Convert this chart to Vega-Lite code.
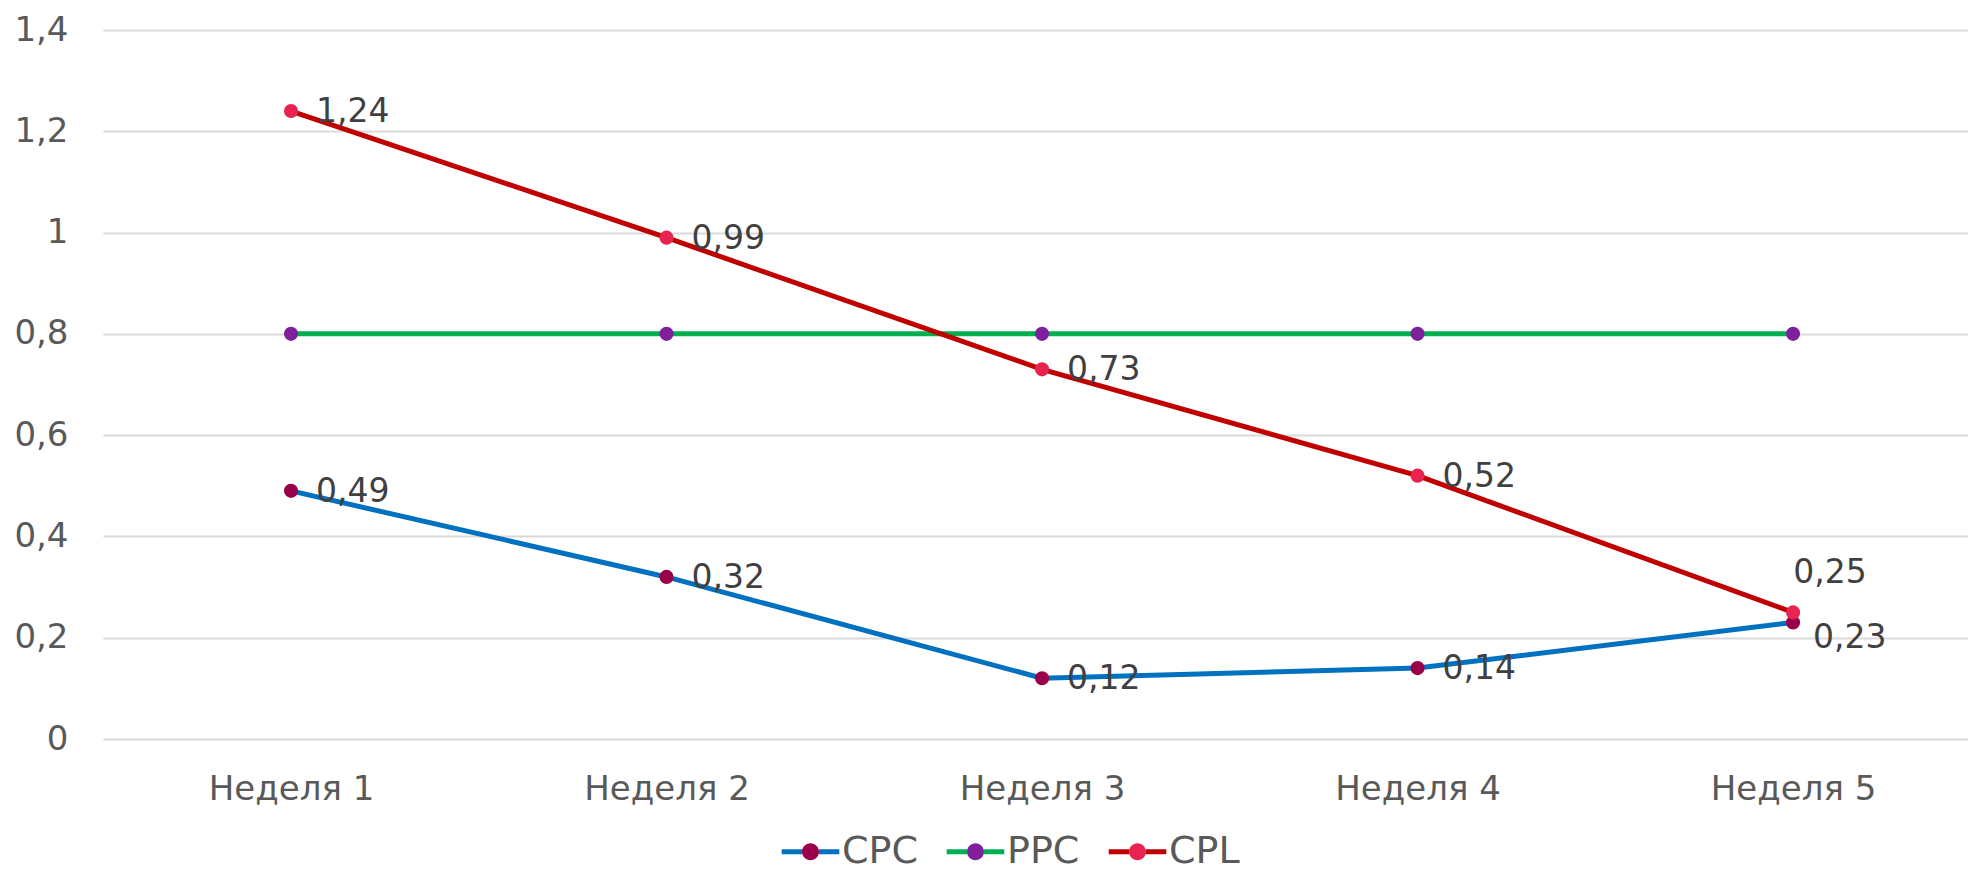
{
  "$schema": "https://vega.github.io/schema/vega-lite/v6.json",
  "width": 1865,
  "height": 709,
  "autosize": "none",
  "padding": {"left": 103, "top": 30, "right": 0, "bottom": 133},
  "background": "#ffffff",
  "config": {
    "view": {"stroke": null},
    "locale": {"number": {"decimal": ",", "thousands": " ", "grouping": [3], "currency": ["", " ₽"]}},
    "font": "DejaVu Sans"
  },
  "data": {
    "values": [
      {"week": "Неделя 1", "series": "CPC", "value": 0.49},
      {"week": "Неделя 2", "series": "CPC", "value": 0.32},
      {"week": "Неделя 3", "series": "CPC", "value": 0.12},
      {"week": "Неделя 4", "series": "CPC", "value": 0.14},
      {"week": "Неделя 5", "series": "CPC", "value": 0.23},
      {"week": "Неделя 1", "series": "PPC", "value": 0.8},
      {"week": "Неделя 2", "series": "PPC", "value": 0.8},
      {"week": "Неделя 3", "series": "PPC", "value": 0.8},
      {"week": "Неделя 4", "series": "PPC", "value": 0.8},
      {"week": "Неделя 5", "series": "PPC", "value": 0.8},
      {"week": "Неделя 1", "series": "CPL", "value": 1.24},
      {"week": "Неделя 2", "series": "CPL", "value": 0.99},
      {"week": "Неделя 3", "series": "CPL", "value": 0.73},
      {"week": "Неделя 4", "series": "CPL", "value": 0.52},
      {"week": "Неделя 5", "series": "CPL", "value": 0.25}
    ]
  },
  "encoding": {
    "x": {
      "field": "week", "type": "ordinal",
      "scale": {"type": "point", "padding": 0.4833, "align": 0.518},
      "axis": {
        "title": null, "labelAngle": 0, "ticks": false, "tickSize": 0, "domain": false, "grid": false,
        "labelFont": "DejaVu Sans", "labelFontSize": 34, "labelColor": "#595959", "labelPadding": 33, "labelBaseline": "top"
      }
    },
    "y": {
      "field": "value", "type": "quantitative",
      "scale": {"domain": [0, 1.4], "nice": false, "zero": true},
      "axis": {
        "title": null, "values": [0, 0.2, 0.4, 0.6, 0.8, 1, 1.2, 1.4], "format": ".1~f",
        "ticks": false, "tickSize": 0, "domain": false, "grid": true, "gridColor": "#D9D9D9", "gridWidth": 2,
        "labelFont": "DejaVu Sans", "labelFontSize": 34, "labelColor": "#595959", "labelPadding": 35
      }
    }
  },
  "layer": [
    {
      "mark": {"type": "line", "strokeWidth": 5, "interpolate": "linear"},
      "encoding": {
        "color": {
          "field": "series", "type": "nominal",
          "scale": {"domain": ["CPC", "PPC", "CPL"], "range": ["#0070C0", "#00B050", "#C00000"]},
          "legend": {
            "title": null, "orient": "none", "direction": "horizontal", "legendX": 687, "legendY": 801,
            "padding": 0,
            "symbolType": "M-1.6,0L-0.45,0M0.45,0L1.6,0",
            "symbolSize": 1296, "symbolStrokeWidth": 5, "symbolOpacity": 1,
            "labelFont": "DejaVu Sans", "labelFontSize": 38, "labelColor": "#595959", "labelOffset": 11,
            "columnPadding": 18,
            "encode": {"symbols": {"update": {"size": {"value": 1296}, "strokeWidth": {"value": 5}}}}
          }
        },
        "order": {"field": "week"}
      }
    },
    {
      "mark": {"type": "circle", "size": 200, "opacity": 1},
      "encoding": {
        "fill": {
          "field": "series", "type": "nominal",
          "scale": {"domain": ["CPC", "CPL", "PPC"], "range": ["#990049", "#E8234F", "#7F1F9B"]},
          "legend": {
            "title": null, "orient": "none", "direction": "horizontal", "legendX": 687, "legendY": 801,
            "padding": 0, "values": ["CPC", "PPC", "CPL"],
            "symbolType": "M-1.6,0L-1.59,0M1.59,0L1.6,0M0.47,0A0.47,0.47 0 1,1 -0.47,0A0.47,0.47 0 1,1 0.47,0Z",
            "symbolSize": 1296, "symbolStrokeWidth": 5, "symbolStrokeColor": "transparent", "symbolOpacity": 1,
            "labelFont": "DejaVu Sans", "labelFontSize": 38, "labelColor": "#595959", "labelOpacity": 0, "labelOffset": 11,
            "columnPadding": 18,
            "encode": {"symbols": {"update": {"size": {"value": 1296}, "strokeWidth": {"value": 5}, "stroke": {"value": "transparent"}}}}
          }
        }
      }
    },
    {
      "transform": [{"filter": "datum.series !== 'PPC' && datum.week !== 'Неделя 5'"}],
      "mark": {"type": "text", "align": "left", "baseline": "middle", "dx": 25, "dy": 1, "font": "DejaVu Sans", "fontSize": 33, "color": "#404040"},
      "encoding": {"text": {"field": "value", "type": "quantitative", "format": ".2f"}}
    },
    {
      "transform": [{"filter": "datum.series === 'CPL' && datum.week === 'Неделя 5'"}],
      "mark": {"type": "text", "align": "center", "baseline": "middle", "dx": 37, "dy": -39, "font": "DejaVu Sans", "fontSize": 33, "color": "#404040"},
      "encoding": {"text": {"field": "value", "type": "quantitative", "format": ".2f"}}
    },
    {
      "transform": [{"filter": "datum.series === 'CPC' && datum.week === 'Неделя 5'"}],
      "mark": {"type": "text", "align": "left", "baseline": "middle", "dx": 20, "dy": 15, "font": "DejaVu Sans", "fontSize": 33, "color": "#404040"},
      "encoding": {"text": {"field": "value", "type": "quantitative", "format": ".2f"}}
    }
  ]
}
